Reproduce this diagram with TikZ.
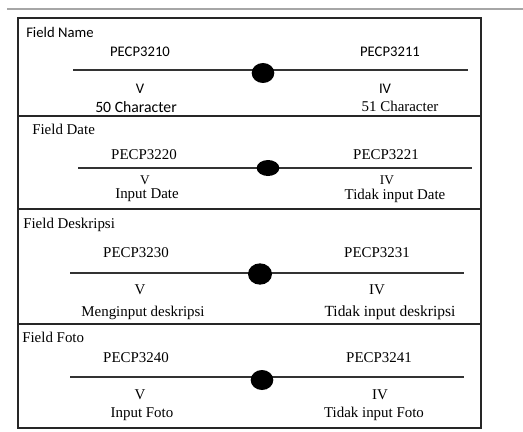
\documentclass[tikz,border=0pt]{standalone}
\usetikzlibrary{shapes.geometric}
\usepackage{fontspec}
\setmainfont{Liberation Serif}
\newfontfamily\calib{Carlito}
\begin{document}
\begin{tikzpicture}[x=0.75pt,y=-0.75pt,
  panel/.style={draw=black!85,line width=0.8pt},
  sline/.style={draw=black!80,line width=0.8pt},
  dotnode/.style={ellipse,fill=black,inner sep=0pt,minimum width=17pt,minimum height=14pt},
  serif/.style={font=\fontsize{11.2}{13}\selectfont,inner sep=0pt},
  small/.style={font=\fontsize{10}{12}\selectfont,inner sep=0pt},
  sans/.style={font=\calib\fontsize{11}{13}\selectfont,inner sep=0pt},
  title/.style={anchor=west}]
\useasboundingbox (0,0) rectangle (523,431);
\draw[black!35,line width=0.8pt] (7,9) -- (523,9);
% panels
\draw[panel] (18,18) rectangle (481,116);
\draw[panel] (18,116) rectangle (481,209);
\draw[panel] (18,209) rectangle (481,324);
\draw[panel] (18,324) rectangle (481,428);
% panel 1
\node[sans,title] (t1) at (26,32) {Field Name};
\node[sans] (a1) at (140,52) {PECP3210};
\node[sans] (b1) at (390,52) {PECP3211};
\coordinate (l1a) at (73,70);
\coordinate (l1b) at (468,70);
\draw[sline] (l1a) -- (l1b);
\node[dotnode,minimum width=17pt,minimum height=15pt] (d1) at (263,73) {};
\node[sans] (v1) at (140,89) {V};
\node[sans] (iv1) at (385,89) {IV};
\node[sans,font=\calib\fontsize{11.8}{14}\selectfont] (c1) at (136,107) {50 Character};
\node[serif] (e1) at (400,106) {51 Character};
% panel 2
\node[serif,title] (t2) at (32,129) {Field Date};
\node[serif] (a2) at (144,155) {PECP3220};
\node[serif] (b2) at (386,155) {PECP3221};
\coordinate (l2a) at (78,168);
\coordinate (l2b) at (472,168);
\draw[sline] (l2a) -- (l2b);
\node[dotnode,minimum width=17pt,minimum height=12pt] (d2) at (268,168) {};
\node[small] (v2) at (145,180.5) {V};
\node[small] (iv2) at (387,180.5) {IV};
\node[serif] (c2) at (147,195.5) {Input Date};
\node[serif] (e2) at (395,195.5) {Tidak input Date};
% panel 3
\node[serif,title] (t3) at (23,225) {Field Deskripsi};
\node[serif] (a3) at (136,253) {PECP3230};
\node[serif] (b3) at (377,253) {PECP3231};
\coordinate (l3a) at (70,273);
\coordinate (l3b) at (464,273);
\draw[sline] (l3a) -- (l3b);
\node[dotnode,minimum width=18pt,minimum height=16pt] (d3) at (260,274) {};
\node[serif] (v3) at (140,290) {V};
\node[serif] (iv3) at (377,290) {IV};
\node[serif] (c3) at (143,313) {Menginput deskripsi};
\node[serif,font=\fontsize{11.6}{13}\selectfont] (e3) at (390,313) {Tidak input deskripsi};
% panel 4
\node[serif,title] (t4) at (22,337) {Field Foto};
\node[serif] (a4) at (136,358) {PECP3240};
\node[serif] (b4) at (379,358) {PECP3241};
\coordinate (l4a) at (70,377);
\coordinate (l4b) at (464,377);
\draw[sline] (l4a) -- (l4b);
\node[dotnode,minimum width=17pt,minimum height=15pt] (d4) at (262,380) {};
\node[serif] (v4) at (140,395) {V};
\node[serif] (iv4) at (380,395) {IV};
\node[serif] (c4) at (142,414) {Input Foto};
\node[serif] (e4) at (374,414) {Tidak input Foto};
\end{tikzpicture}
\end{document}
